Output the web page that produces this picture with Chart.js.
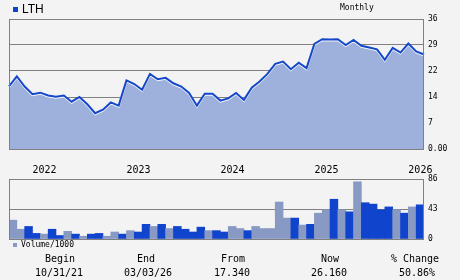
<!DOCTYPE html>
<html lang="en">
<head>
<meta charset="UTF-8">
<title>LTH - Monthly</title>
<script src="https://cdn.jsdelivr.net/npm/chart.js"></script>
<style>
  body { margin: 0; background: #f3f3f3; }
  #wrap { position: relative; width: 460px; height: 280px; overflow: hidden; background: #f3f3f3;
          font-family: "DejaVu Sans Mono", monospace; color: #000; }
  canvas { position: absolute; left: 0; }
  .txt { position: absolute; white-space: nowrap; }
  .sq { position: absolute; width: 5px; height: 5px; }
  .lbl { position: absolute; width: 90px; text-align: center; font-size: 10px; line-height: 12px; }
</style>
</head>
<body>
<div id="wrap">
  <canvas id="priceChart" width="460" height="180" style="top:0"></canvas>
  <canvas id="volChart" width="460" height="110" style="top:150px"></canvas>

  <div class="sq" style="left:13px;top:7px;background:#1144cc"></div>
  <div class="txt" style="left:22px;top:3px;font:12px/12px 'Liberation Sans',Arial,sans-serif">LTH</div>
  <div class="txt" style="left:340px;top:3px;font-size:8px;line-height:10px">Monthly</div>

  <div class="sq" style="left:13px;top:243px;width:4px;height:4px;background:#8899c4"></div>
  <div class="txt" style="left:21px;top:240px;font-size:8px;line-height:10px">Volume/1000</div>

  <div class="lbl" style="left:15px;top:253px">Begin</div>
  <div class="lbl" style="left:14px;top:267px">10/31/21</div>
  <div class="lbl" style="left:101px;top:253px">End</div>
  <div class="lbl" style="left:103px;top:267px">03/03/26</div>
  <div class="lbl" style="left:188px;top:253px">From</div>
  <div class="lbl" style="left:187px;top:267px">17.340</div>
  <div class="lbl" style="left:285px;top:253px">Now</div>
  <div class="lbl" style="left:284px;top:267px">26.160</div>
  <div class="lbl" style="left:370px;top:253px">% Change</div>
  <div class="lbl" style="left:372px;top:267px">50.86%</div>
</div>
<script>
    // month ends, Oct 2021 .. Mar 2026
    const months = [
        '2021-10', '2021-11', '2021-12',
        '2022-01', '2022-02', '2022-03', '2022-04', '2022-05', '2022-06', '2022-07', '2022-08', '2022-09', '2022-10', '2022-11', '2022-12',
        '2023-01', '2023-02', '2023-03', '2023-04', '2023-05', '2023-06', '2023-07', '2023-08', '2023-09', '2023-10', '2023-11', '2023-12',
        '2024-01', '2024-02', '2024-03', '2024-04', '2024-05', '2024-06', '2024-07', '2024-08', '2024-09', '2024-10', '2024-11', '2024-12',
        '2025-01', '2025-02', '2025-03', '2025-04', '2025-05', '2025-06', '2025-07', '2025-08', '2025-09', '2025-10', '2025-11', '2025-12',
        '2026-01', '2026-02', '2026-03'
    ];
    const price = [
        17.34, 20.1, 17.3, 15.2, 15.6, 14.8, 14.5, 14.8, 13.1, 14.4, 12.4, 9.9, 10.9, 12.9,
        12.0, 19.0, 18.0, 16.4, 20.8, 19.3, 19.7, 18.2, 17.3, 15.5, 12.0, 15.3, 15.3, 13.4,
        14.0, 15.5, 13.6, 17.0, 18.7, 20.8, 23.6, 24.2, 22.1, 23.9, 22.4, 29.1, 30.4, 30.3,
        30.4, 28.8, 30.2, 28.6, 28.1, 27.6, 24.7, 28.0, 26.7, 29.2, 27.0, 26.16
    ];
    // volume (thousands) for each month after the first
    const volume = [
        27, 14, 18, 8, 7, 14, 5, 11, 7, 4, 7, 8, 4, 10, 7, 12, 10, 21, 18, 21, 15, 18, 14, 10, 17, 12, 12,
        10, 18, 15, 12, 18, 15, 15, 53, 30, 30, 20, 21, 37, 42, 57, 42, 39, 82, 52, 50, 42, 46, 42, 37, 46, 49
    ];
    const volumeDark = [
        0, 0, 1, 1, 0, 1, 1, 0, 1, 0, 1, 1, 0, 0, 1, 0, 1, 1, 0, 1, 0, 1, 1, 1, 1, 0, 1,
        1, 0, 0, 1, 0, 0, 0, 0, 0, 1, 0, 1, 0, 0, 1, 0, 1, 0, 1, 1, 1, 1, 0, 1, 0, 1
    ];
    const priceTicks = [0, 7.2, 14.4, 21.6, 28.8, 36];
    const priceTickLabels = ['0.00', '7', '14', '22', '29', '36'];
    const volumeTicks = [0, 43, 86];
    const volumeTickLabels = ['0', '43', '86'];

    const monoFont = { family: 'DejaVu Sans Mono', size: 8 };

    // gray frame round the plot area
    const plotFrame = {
        id: 'plotFrame',
        afterDraw(chart) {
            const { ctx, chartArea: a } = chart;
            ctx.save();
            ctx.strokeStyle = '#808080';
            ctx.lineWidth = 1;
            ctx.strokeRect(Math.round(a.left) + 0.5, Math.round(a.top) + 0.5,
                Math.round(a.right - a.left) - 1, Math.round(a.bottom - a.top));
            ctx.restore();
        }
    };
    // thin white highlight under the price line
    const lineGlow = {
        id: 'lineGlow',
        beforeDatasetDraw(chart) {
            chart.ctx.shadowColor = 'rgba(255,255,255,0.9)';
            chart.ctx.shadowOffsetY = 1;
            chart.ctx.shadowBlur = 0;
        },
        afterDatasetDraw(chart) {
            chart.ctx.shadowColor = 'rgba(0,0,0,0)';
            chart.ctx.shadowOffsetY = 0;
        }
    };

    new Chart(document.getElementById('priceChart'), {
        type: 'line',
        data: {
            labels: months,
            datasets: [{
                data: price,
                borderColor: '#1448c8',
                borderWidth: 2,
                backgroundColor: '#9eb0dc',
                fill: 'origin',
                pointRadius: 0,
                tension: 0
            }]
        },
        options: {
            responsive: false,
            animation: false,
            layout: { padding: { left: 9, top: 19, right: 0, bottom: 0 } },
            plugins: { legend: { display: false }, tooltip: { enabled: false } },
            scales: {
                x: {
                    offset: false,
                    grid: { display: false, drawTicks: false },
                    border: { display: false },
                    ticks: {
                        autoSkip: false, maxRotation: 0, minRotation: 0, align: 'start', padding: 15,
                        color: '#000', font: { family: 'DejaVu Sans Mono', size: 10 },
                        callback: (v, i) => months[i].endsWith('-01') ? months[i].slice(0, 4) : ''
                    },
                    afterFit: s => { s.height = 31; s.paddingLeft = 0; s.paddingRight = 0; }
                },
                y: {
                    position: 'right',
                    min: 0, max: 36,
                    grid: { color: '#808080', drawTicks: false },
                    border: { display: false },
                    ticks: {
                        padding: 4, color: '#000', font: monoFont,
                        callback: (v, i) => priceTickLabels[i]
                    },
                    afterBuildTicks: s => { s.ticks = priceTicks.map(v => ({ value: v })); },
                    afterFit: s => { s.width = 36; s.paddingTop = 0; s.paddingBottom = 0; }
                }
            }
        },
        plugins: [lineGlow, plotFrame]
    });

    new Chart(document.getElementById('volChart'), {
        type: 'bar',
        data: {
            labels: months.slice(1),
            datasets: [{
                data: volume,
                backgroundColor: volumeDark.map(d => d ? '#1144cc' : '#8899c4'),
                borderWidth: 0,
                barPercentage: 1,
                categoryPercentage: 1
            }]
        },
        options: {
            responsive: false,
            animation: false,
            layout: { padding: { left: 9, top: 29, right: 0, bottom: 21 } },
            plugins: { legend: { display: false }, tooltip: { enabled: false } },
            scales: {
                x: { display: false, offset: true },
                y: {
                    position: 'right',
                    min: 0, max: 86,
                    grid: { color: '#808080', drawTicks: false },
                    border: { display: false },
                    ticks: {
                        padding: 4, color: '#000', font: monoFont,
                        callback: (v, i) => volumeTickLabels[i]
                    },
                    afterBuildTicks: s => { s.ticks = volumeTicks.map(v => ({ value: v })); },
                    afterFit: s => { s.width = 36; }
                }
            }
        },
        plugins: [plotFrame]
    });
</script>
</body>
</html>
